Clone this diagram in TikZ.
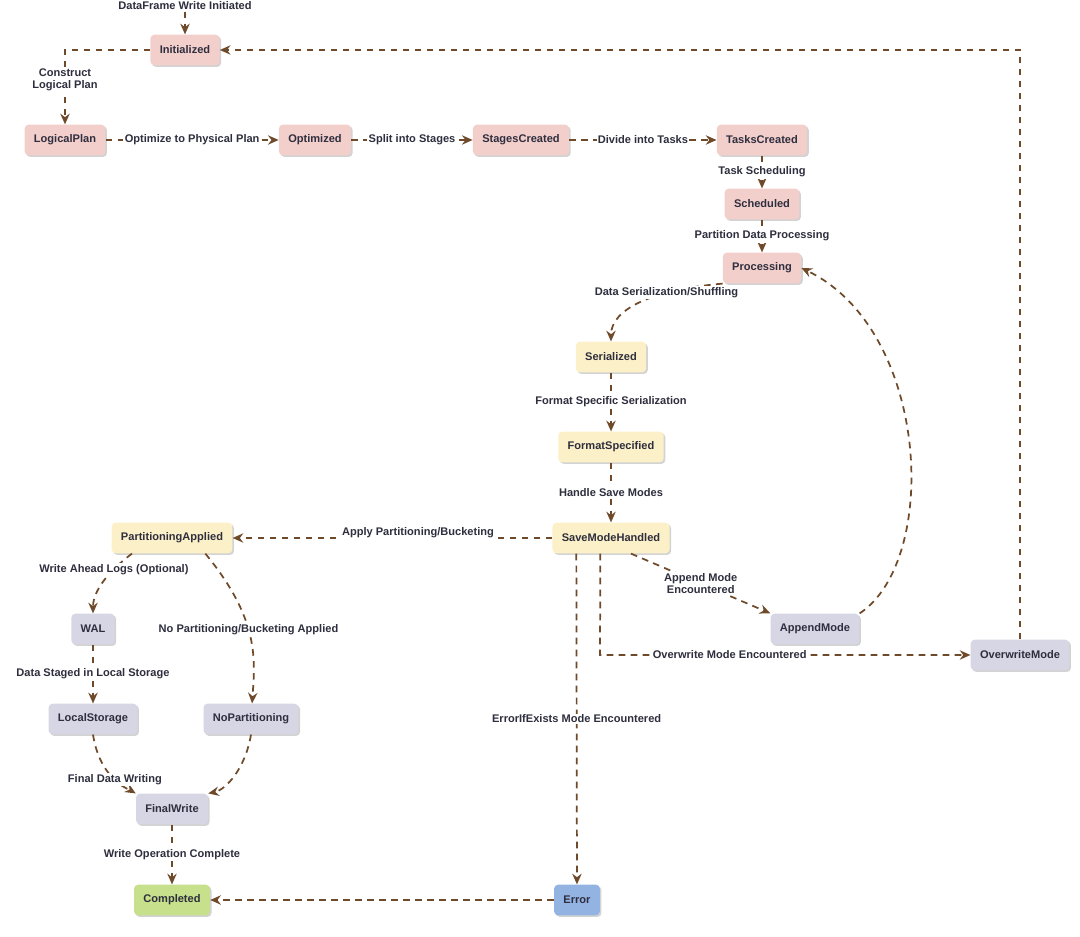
\documentclass[tikz,border=0pt]{standalone}
\usepackage{fontspec}
\setmainfont{Liberation Sans}
\usetikzlibrary{arrows.meta,shadows}
\definecolor{ar}{HTML}{6E4A2A}
\definecolor{pk}{HTML}{F3CFCC}
\definecolor{yl}{HTML}{FCF0C8}
\definecolor{lv}{HTML}{D7D6E4}
\definecolor{gr}{HTML}{C6E08C}
\definecolor{bl}{HTML}{93B3E2}
\definecolor{tx}{HTML}{2E2E3E}
\begin{document}
\begin{tikzpicture}[x=0.75pt,y=-0.75pt,
 st/.style={rounded corners=3pt,minimum height=23pt,inner xsep=7pt,font=\bfseries\fontsize{8.3}{9.5}\selectfont,text=tx,drop shadow={shadow xshift=1.2pt,shadow yshift=-1.2pt,opacity=0.35}},
 pkn/.style={st,fill=pk},ylw/.style={st,fill=yl},lvn/.style={st,fill=lv},
 e/.style={draw=ar,line width=1.3pt,dash pattern=on 5pt off 4pt,-{Stealth[length=8pt,width=7pt]}},
 lb/.style={font=\bfseries\fontsize{8.3}{9.5}\selectfont,text=tx,fill=white,inner sep=1pt,align=center}]
\useasboundingbox (0,0) rectangle (1080,937);
\node[pkn] (init) at (185,50) {Initialized};
\node[pkn] (lp) at (65,140) {LogicalPlan};
\node[pkn] (opt) at (315,140) {Optimized};
\node[pkn] (sc) at (521,140) {StagesCreated};
\node[pkn] (tc) at (762,140) {TasksCreated};
\node[pkn] (sch) at (762,204) {Scheduled};
\node[pkn] (proc) at (762,268) {Processing};
\node[ylw] (ser) at (611,357) {Serialized};
\node[ylw] (fs) at (611,447) {FormatSpecified};
\node[ylw] (smh) at (611,538) {SaveModeHandled};
\node[ylw] (pa) at (172,538) {PartitioningApplied};
\node[lvn] (wal) at (93,629) {WAL};
\node[lvn] (ls) at (93,719) {LocalStorage};
\node[lvn] (np) at (251,719) {NoPartitioning};
\node[lvn] (fw) at (172,809) {FinalWrite};
\node[st,fill=gr] (comp) at (172,900) {Completed};
\node[st,fill=bl] (err) at (577,900) {Error};
\node[lvn] (am) at (815,629) {AppendMode};
\node[lvn] (om) at (1020,655) {OverwriteMode};
\node[lb] (start) at (185,6) {DataFrame Write Initiated};
\coordinate (c1) at (65,50);
\coordinate (c2) at (1020,50);
\coordinate (c3) at (600,655);

\draw[e] (start) -- (init);
\draw[e] (init.west) -- (c1) -- node[lb,pos=0.4]{Construct\\Logical Plan} (lp);
\draw[e] (lp) -- node[lb]{Optimize to Physical Plan} (opt);
\draw[e] (opt) -- node[lb]{Split into Stages} (sc);
\draw[e] (sc) -- node[lb]{Divide into Tasks} (tc);
\draw[e] (tc) -- node[lb]{Task Scheduling} (sch);
\draw[e] (sch) -- node[lb]{Partition Data Processing} (proc);
\draw[e] (proc.south west) .. controls (650,290) and (611,310) .. node[lb,pos=0.3]{Data Serialization/Shuffling} (ser);
\draw[e] (ser) -- node[lb]{Format Specific Serialization} (fs);
\draw[e] (fs) -- node[lb]{Handle Save Modes} (smh);
\draw[e] (smh) -- node[lb,pos=0.42,yshift=4pt]{Apply Partitioning/Bucketing} (pa);
\draw[e] ([xshift=15pt]smh.south) -- node[lb,pos=0.5]{Append Mode\\Encountered} (am.north west);
\draw[e] (am.north east) .. controls (940,560) and (930,330) .. (proc.east);
\draw[e] ([xshift=-8pt]smh.south) -- (c3) -- node[lb,pos=0.35]{Overwrite Mode Encountered} (om.west);
\draw[e] (om.north) -- (c2) -- (init.east);
\draw[e] ([xshift=-26pt]smh.south) -- node[lb,pos=0.5]{ErrorIfExists Mode Encountered} (err);
\draw[e] (err) -- (comp);
\draw[e] ([xshift=-30pt]pa.south) .. controls (110,570) and (93,590) .. node[lb,pos=0.3]{Write Ahead Logs (Optional)} (wal);
\draw[e] ([xshift=25pt]pa.south) .. controls (260,620) and (255,660) .. node[lb,pos=0.45]{No Partitioning/Bucketing Applied} (np);
\draw[e] (wal) -- node[lb]{Data Staged in Local Storage} (ls);
\draw[e] (ls.south) .. controls (100,780) and (130,790) .. node[lb,pos=0.5]{Final Data Writing} (fw.north west);
\draw[e] (np.south) .. controls (245,770) and (225,790) .. (fw.north east);
\draw[e] (fw) -- node[lb]{Write Operation Complete} (comp);
\end{tikzpicture}
\end{document}
